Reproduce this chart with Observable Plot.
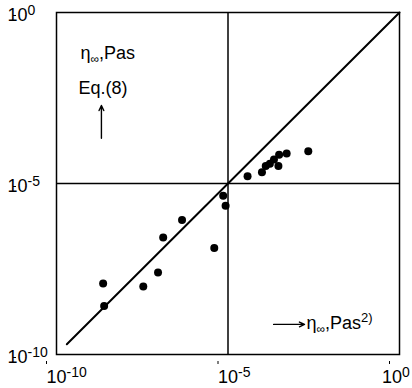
<!DOCTYPE html>
<html><head><meta charset="utf-8">
<script src="https://cdn.jsdelivr.net/npm/d3@7"></script>
<script src="https://cdn.jsdelivr.net/npm/@observablehq/plot@0.6"></script>
<style>
body{margin:0;background:#fff;}
</style></head><body><div id="chart"></div>
<script>
// measured eta_inf (x) vs Eq.(8) (y), Pa·s
const xValues = [2.29e-9, 2.45e-9, 3.39e-8, 9.12e-8, 1.29e-7, 4.57e-7, 3.98e-6, 7.24e-6, 8.51e-6,
                 3.72e-5, 9.77e-5, 1.26e-4, 1.66e-4, 2.19e-4, 2.95e-4, 3.09e-4, 5.13e-4, 2.19e-3];
const yValues = [1.20e-8, 2.63e-9, 9.77e-9, 2.51e-8, 2.63e-7, 8.51e-7, 1.29e-7, 4.37e-6, 2.24e-6,
                 1.62e-5, 2.14e-5, 3.24e-5, 3.80e-5, 5.01e-5, 3.24e-5, 6.92e-5, 7.59e-5, 8.71e-5];
const tickValues = [1e-10, 1e-5, 1];
const tickExponents = ["-10", "-5", "0"];
const diagonal = [2.0e-10, 1];
const crossValue = [1e-5];
const yLabelLines = ["η∞,Pas", "Eq.(8)"];
const xLabelText = ["η∞,Pas2)"];
const upArrow = [{x1: 2.04e-9, y1: 2.09e-4, x2: 2.04e-9, y2: 1.91e-3}];
const rightArrow = [{x1: 2.14e-4, y1: 7.59e-10, x2: 1.70e-3, y2: 7.59e-10}];

const points = xValues.map((x, i) => ({x, y: yValues[i]}));
const font = "'Liberation Sans', Arial, Helvetica, sans-serif";
const FS = 18;

const plot = Plot.plot({
  width: 412, height: 388,
  marginLeft: 56, marginRight: 13, marginTop: 12, marginBottom: 34,
  style: {fontFamily: font, color: "black", background: "white"},
  x: {type: "log", domain: [1e-10, 1], axis: null},
  y: {type: "log", domain: [1e-10, 1], axis: null},
  marks: [
    Plot.ruleX(crossValue, {stroke: "black", strokeWidth: 1.5}),
    Plot.ruleY(crossValue, {stroke: "black", strokeWidth: 1.5}),
    Plot.line(diagonal, {x: d => d, y: d => d, stroke: "black", strokeWidth: 2}),
    Plot.dot(points, {x: "x", y: "y", r: 4, fill: "black", stroke: "none"}),
    Plot.frame({stroke: "black", strokeWidth: 1.5}),
    Plot.axisX(tickValues, {anchor: "bottom", tickSize: 3, stroke: "black", fill: "black",
      fontSize: FS, textAnchor: "start", dx: -10, dy: 7,
      tickFormat: d => "10^" + tickExponents[tickValues.indexOf(d)]}),
    Plot.axisY(tickValues, {anchor: "left", tickSize: 3, stroke: "black", fill: "black",
      fontSize: FS, textAnchor: "start", dx: -40, dy: 3,
      tickFormat: d => "10^" + tickExponents[tickValues.indexOf(d)]}),
    Plot.text([yLabelLines[0]], {frameAnchor: "top-left", textAnchor: "start", lineAnchor: "bottom",
      dx: 24, dy: 46, fontSize: FS, fill: "black", text: d => d}),
    Plot.text([yLabelLines[1]], {frameAnchor: "top-left", textAnchor: "start", lineAnchor: "bottom",
      dx: 22, dy: 81, fontSize: FS, fill: "black", text: d => d}),
    Plot.text(xLabelText, {frameAnchor: "top-left", textAnchor: "start", lineAnchor: "bottom",
      dx: 250, dy: 316, fontSize: FS, fill: "black", text: d => d}),
    Plot.arrow(upArrow, {x1: "x1", y1: "y1", x2: "x2", y2: "y2", stroke: "black", strokeWidth: 1.4, headLength: 6, headAngle: 50, bend: 0}),
    Plot.arrow(rightArrow, {x1: "x1", y1: "y1", x2: "x2", y2: "y2", stroke: "black", strokeWidth: 1.4, headLength: 6, headAngle: 50, bend: 0})
  ]
});
document.getElementById("chart").appendChild(plot);

const svg = d3.select(plot);
svg.selectAll("text").each(function() {
  const t = this.textContent;
  const sel = d3.select(this);
  if (t.startsWith("10^")) {
    const [b, e] = t.split("^");
    sel.text(b);
    sel.append("tspan").attr("dy", "-0.42em").attr("font-size", 14).text(e);
  } else if (t.startsWith("η∞")) {
    const rest = t.slice(2);
    const m = rest.match(/^(,Pas)(.*)$/);
    sel.text("η");
    sel.append("tspan").attr("dy", 4).attr("font-size", 12).text("∞");
    sel.append("tspan").attr("dy", -4).attr("font-size", FS).text(m[1]);
    if (m[2]) sel.append("tspan").attr("dy", -7).attr("font-size", 13).text(m[2]);
  }
});
// keep labels inside the picture
svg.selectAll("text").each(function() {
  const bb = this.getBBox();
  const ctm = this.getCTM();
  const right = ctm.e + bb.x + bb.width;
  if (right > 411) {
    const cur = +(this.getAttribute("x") || 0);
    this.setAttribute("x", cur - (right - 410));
  }
});
</script></body></html>
